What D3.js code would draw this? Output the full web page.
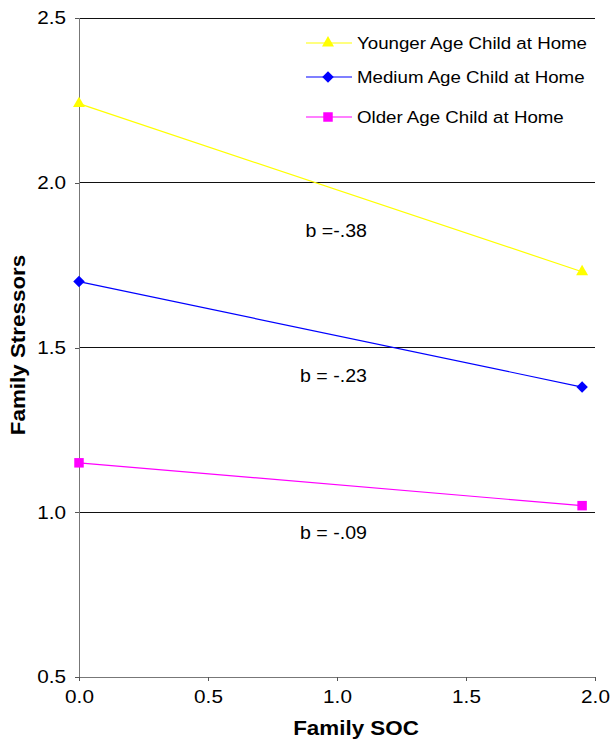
<!DOCTYPE html>
<html>
<head>
<meta charset="utf-8">
<script src="https://cdn.jsdelivr.net/npm/d3@7"></script>
<style>
  html, body { margin: 0; padding: 0; background: #fff; }
  svg { display: block; font-family: "Liberation Sans", Arial, Helvetica, sans-serif; }
</style>
</head>
<body>
<svg id="chart" width="611" height="739"></svg>
<script>
// data
const xValues = [0, 1.95];
const seriesNames = ["Younger Age Child at Home", "Medium Age Child at Home", "Older Age Child at Home"];
const younger = [2.24, 1.73];
const medium = [1.70, 1.38];
const older = [1.15, 1.02];
const slopeLabels = ["b =-.38", "b = -.23", "b = -.09"];
const slopeLabelPos = [[1.116, 1.836], [1.116, 1.394], [1.116, 0.918]];
const xTicks = [0, 0.5, 1, 1.5, 2];
const yTicks = [0.5, 1, 1.5, 2, 2.5];

const colors = ["#ffff00", "#0000ff", "#ff00ff"];
const STRETCH = 1.12; // reference text is drawn a bit wide

const svg = d3.select("#chart");

const x = d3.scaleLinear().domain([0, 2]).range([79, 595]);
const y = d3.scaleLinear().domain([0.5, 2.5]).range([677, 18]);

function marker(sel, s) {
  if (s === 0) {
    sel.attr("d", d3.symbol().type(d3.symbolTriangle).size(62));
  } else if (s === 1) {
    sel.attr("d", d3.symbol().type(d3.symbolSquare).size(66))
      .attr("transform", function () { return d3.select(this).attr("transform") + " rotate(45)"; });
  } else {
    sel.attr("d", d3.symbol().type(d3.symbolSquare).size(90));
  }
}

function label(g, tx, ty, text, size, bold) {
  return g.append("text")
    .attr("transform", `translate(${tx},${ty}) scale(${STRETCH},1)`)
    .style("font-size", size + "px")
    .style("font-weight", bold ? "bold" : "normal")
    .text(text);
}

/* gridlines */
svg.append("g")
  .selectAll("line")
  .data(yTicks.slice(1))
  .join("line")
  .attr("x1", x(0)).attr("x2", x(2))
  .attr("y1", d => y(d)).attr("y2", d => y(d))
  .attr("stroke", "#111").attr("stroke-width", 1)
  .attr("shape-rendering", "crispEdges");

/* axes */
const yAxis = svg.append("g")
  .attr("transform", `translate(${x(0)},0)`)
  .call(d3.axisLeft(y).tickValues(yTicks).tickFormat(d3.format(".1f")).tickSize(4).tickPadding(7.6));
const xAxis = svg.append("g")
  .attr("transform", `translate(0,${y(0.5)})`)
  .call(d3.axisBottom(x).tickValues(xTicks).tickFormat(d3.format(".1f")).tickSize(4).tickPadding(9));

[yAxis, xAxis].forEach(g => {
  g.select(".domain").attr("stroke", "#777").attr("shape-rendering", "crispEdges");
  g.selectAll(".tick line").attr("stroke", "#555").attr("shape-rendering", "crispEdges");
  g.selectAll(".tick text")
    .attr("fill", "#000")
    .attr("transform", `scale(${STRETCH},1)`)
    .style("font-size", "18.5px");
});

/* series */
const series = [younger, medium, older];
const line = d3.line().x((d, i) => x(xValues[i])).y(d => y(d));

series.forEach((vals, s) => {
  svg.append("path")
    .datum(vals)
    .attr("d", line)
    .attr("fill", "none")
    .attr("stroke", colors[s])
    .attr("stroke-width", 1.2);
  svg.append("g")
    .selectAll("path")
    .data(vals)
    .join("path")
    .attr("transform", (d, i) => `translate(${x(xValues[i])},${y(d)})`)
    .attr("fill", colors[s])
    .call(marker, s);
});

/* slope labels */
const notes = svg.append("g");
slopeLabels.forEach((t, i) => {
  label(notes, x(slopeLabelPos[i][0]), y(slopeLabelPos[i][1]), t, 17.5, false)
    .attr("text-anchor", "end");
});

/* legend */
const legend = svg.append("g");
const legendY = [43, 77, 117];
seriesNames.forEach((name, s) => {
  const g = legend.append("g").attr("transform", `translate(306,${legendY[s]})`);
  g.append("line").attr("x1", 0).attr("x2", 46).attr("stroke", colors[s]).attr("stroke-width", 1.2);
  g.append("path")
    .attr("transform", "translate(22,0)")
    .attr("fill", colors[s])
    .call(marker, s);
  label(g, 51, 6, name, 16.7, false);
});

/* axis titles */
label(svg, 356, 735, "Family SOC", 20, true).attr("text-anchor", "middle");

svg.append("text")
  .attr("transform", `translate(25,345) rotate(-90) scale(${STRETCH},1)`)
  .attr("text-anchor", "middle")
  .style("font-size", "20px").style("font-weight", "bold")
  .text("Family Stressors");
</script>
</body>
</html>
